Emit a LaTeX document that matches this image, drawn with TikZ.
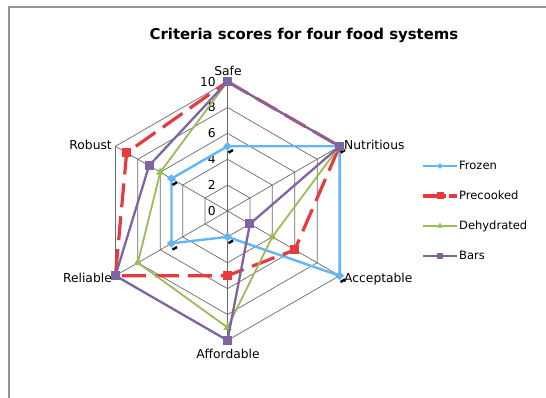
\documentclass[tikz,border=0pt]{standalone}
\usepackage{fontspec}
\setmainfont{DejaVu Sans}
\usetikzlibrary{shapes.geometric}

\definecolor{frozenblue}{RGB}{96,182,248}
\definecolor{precookred}{RGB}{232,58,62}
\definecolor{dehydgreen}{RGB}{155,187,89}
\definecolor{barspurple}{RGB}{128,100,162}
\definecolor{framegray}{RGB}{150,150,150}
\definecolor{gridgray}{RGB}{105,105,105}

\tikzset{
  chart frame/.style={framegray, line width=1.6pt},
  chart title/.style={font=\fontsize{14.9}{17}\selectfont\bfseries, inner sep=0pt, anchor=base},
  grid line/.style={gridgray, line width=0.7pt},
  axis label/.style={font=\fontsize{12.3}{14}\selectfont, inner sep=0pt},
  tick label/.style={font=\fontsize{12.3}{14}\selectfont, inner sep=0pt, anchor=east},
  legend text/.style={font=\fontsize{11.5}{13}\selectfont, inner sep=0pt, anchor=base west},
  frozen line/.style={frozenblue, line width=2.4pt, line join=round},
  precook line/.style={precookred, line width=3.2pt, dash pattern=on 24pt off 9pt},
  dehyd line/.style={dehydgreen, line width=1.8pt, line join=round},
  bars line/.style={barspurple, line width=2.3pt, line join=round},
  frozen mark/.style={diamond, fill=frozenblue, inner sep=0pt, minimum size=9pt},
  precook mark/.style={rectangle, fill=precookred, inner sep=0pt, minimum size=9pt},
  dehyd mark/.style={regular polygon, regular polygon sides=3, fill=dehydgreen, inner sep=0pt, minimum size=9.5pt},
  bars mark/.style={rectangle, fill=barspurple, inner sep=0pt, minimum size=9pt},
  frozen tick/.style={black, line width=2.4pt},
}

\begin{document}
\begin{tikzpicture}[x=1pt,y=1pt]
  \useasboundingbox (-227.5,-187) rectangle (318.5,211);
  % chart border, left and top
  \draw[chart frame] (-218.5,-187) -- (-218.5,204.5);
  \draw[chart frame] (-219.3,204) -- (318.5,204);
  \node[chart title] (title) at (76.5,171) {Criteria scores for four food systems};

  \begin{scope}[x=12.94pt,y=12.94pt]
    % grid
    \foreach \r in {2,4,...,10}
      \draw[grid line] (90:\r) -- (30:\r) -- (-30:\r) -- (-90:\r) -- (-150:\r) -- (150:\r) -- cycle;
    \foreach \a in {90,30,...,-210}
      \draw[grid line] (0,0) -- (\a:10);
    \foreach \r in {0,2,...,10}
      \node[tick label, xshift=-11.5pt] (tick\r) at (0,\r) {\r};

    % data points
    \foreach \v [count=\i] in {5,10,10,2,5,5}
      \coordinate (fz\i) at ({150-60*\i}:\v);
    \foreach \v [count=\i] in {10,10,6,5,10,9}
      \coordinate (pc\i) at ({150-60*\i}:\v);
    \foreach \v [count=\i] in {10,10,4,9,8,6}
      \coordinate (dh\i) at ({150-60*\i}:\v);
    \foreach \v [count=\i] in {10,10,2,10,10,7}
      \coordinate (br\i) at ({150-60*\i}:\v);

    % Frozen
    \draw[frozen line] (fz1) -- (fz2) -- (fz3) -- (fz4) -- (fz5) -- (fz6) -- cycle;
    \foreach \i in {1,...,6}
      \node[frozen mark] (fzm\i) at (fz\i) {};
    \foreach \i in {1,...,6}
      \draw[frozen tick] (fz\i) ++(1pt,-6.3pt) -- ++(4.5pt,2.6pt);

    % Precooked
    \draw[precook line] (pc1) -- (pc2) -- (pc3) -- (pc4) -- (pc5) -- (pc6) -- cycle;
    \foreach \i in {1,...,6}
      \node[precook mark] (pcm\i) at (pc\i) {};

    % Dehydrated
    \draw[dehyd line] (dh1) -- (dh2) -- (dh3) -- (dh4) -- (dh5) -- (dh6) -- cycle;
    \foreach \i in {1,...,6}
      \node[dehyd mark] (dhm\i) at (dh\i) {};

    % Bars
    \draw[bars line] (br1) -- (br2) -- (br3) -- (br4) -- (br5) -- (br6) -- cycle;
    \foreach \i in {1,...,6}
      \node[bars mark] (brm\i) at (br\i) {};
  \end{scope}

  % axis names
  \node[axis label, anchor=base] (safe) at (0.5,135.5) {Safe};
  \node[axis label, anchor=base west] (nutritious) at (116.5,61.5) {Nutritious};
  \node[axis label, anchor=base west] (acceptable) at (116.5,-72) {Acceptable};
  \node[axis label, anchor=base] (affordable) at (0.5,-148) {Affordable};
  \node[axis label, anchor=base east] (reliable) at (-115.5,-72) {Reliable};
  \node[axis label, anchor=base east] (robust) at (-115.5,61.5) {Robust};

  % legend
  \coordinate (lgfz) at (212.5,45);
  \coordinate (lgpc) at (212.5,15);
  \coordinate (lgdh) at (212.5,-15);
  \coordinate (lgbr) at (212.5,-45);
  \draw[frozen line] ([xshift=-17pt]lgfz) -- ([xshift=17pt]lgfz);
  \node[frozen mark, minimum size=6pt] (lgfzm) at (lgfz) {};
  \node[legend text] (lgfztext) at (231.5,41) {Frozen};
  \draw[precook line, dash pattern=on 23pt off 3pt] ([xshift=-17pt]lgpc) -- ([xshift=17pt]lgpc);
  \node[precook mark, minimum size=7pt] (lgpcm) at (lgpc) {};
  \node[legend text] (lgpctext) at (231.5,11) {Precooked};
  \draw[dehyd line] ([xshift=-17pt]lgdh) -- ([xshift=17pt]lgdh);
  \node[dehyd mark, minimum size=7pt] (lgdhm) at (lgdh) {};
  \node[legend text] (lgdhtext) at (231.5,-19) {Dehydrated};
  \draw[bars line] ([xshift=-17pt]lgbr) -- ([xshift=17pt]lgbr);
  \node[bars mark, minimum size=6.5pt] (lgbrm) at (lgbr) {};
  \node[legend text] (lgbrtext) at (231.5,-49) {Bars};
\end{tikzpicture}
\end{document}
